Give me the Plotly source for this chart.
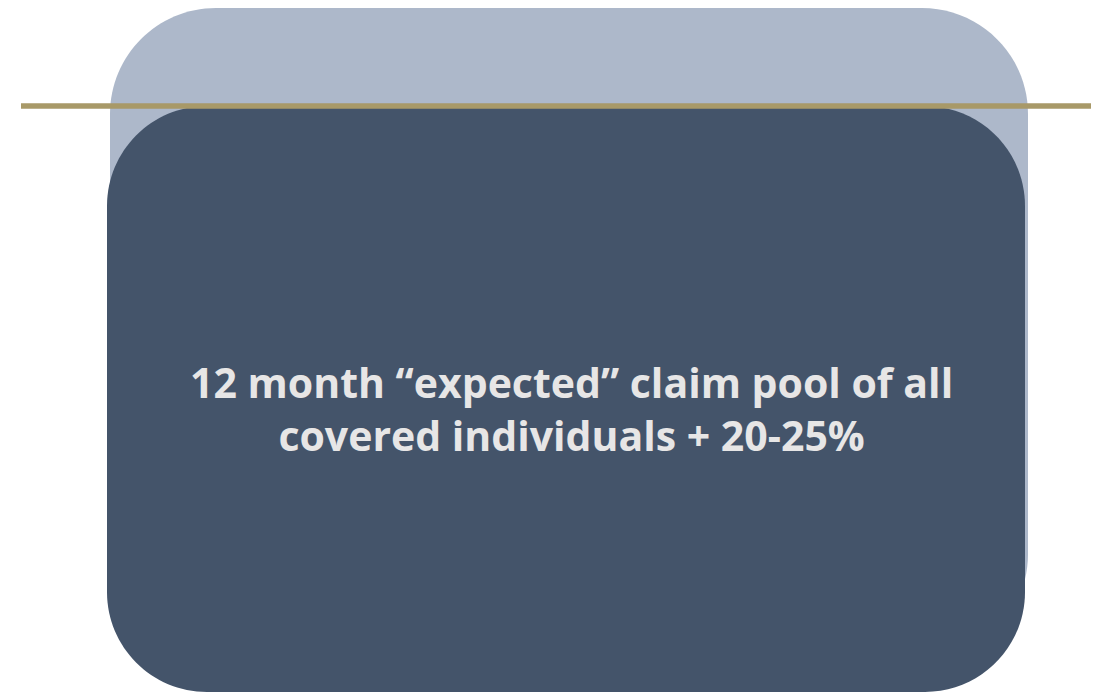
import plotly.graph_objects as go

W, H = 1099, 692
PAGE_OFFSET = 8  # default body margin of the html page

# Shape definitions (pixel space, y downward)
box_names = ["back", "front"]
box_x0 = [110, 107]
box_x1 = [1028, 1025]
box_y0 = [8, 106]
box_y1 = [660, 692]
box_radius = [106, 100]
box_colors = ["#ADB8CA", "#44546A"]

rule_x = [21, 1092]
rule_y = 106
rule_color = "#A89968"

label_lines = ["12 month \u201cexpected\u201d claim pool of all", "covered individuals + 20-25%"]
label_color = "#E7E6E6"


def rounded_rect(x0, y0, x1, y1, r):
    k = 0.5523 * r
    return (
        f"M{x0+r},{y0} L{x1-r},{y0} "
        f"C{x1-r+k},{y0} {x1},{y0+r-k} {x1},{y0+r} "
        f"L{x1},{y1-r} "
        f"C{x1},{y1-r+k} {x1-r+k},{y1} {x1-r},{y1} "
        f"L{x0+r},{y1} "
        f"C{x0+r-k},{y1} {x0},{y1-r+k} {x0},{y1-r} "
        f"L{x0},{y0+r} "
        f"C{x0},{y0+r-k} {x0+r-k},{y0} {x0+r},{y0} Z"
    )


fig = go.Figure()
fig.add_trace(go.Scatter(x=[0, W], y=[0, H], mode="markers",
                         marker=dict(opacity=0), hoverinfo="skip", showlegend=False))

shapes = []
for i in range(len(box_names)):
    shapes.append(dict(type="path",
                       path=rounded_rect(box_x0[i], box_y0[i], box_x1[i], box_y1[i], box_radius[i]),
                       fillcolor=box_colors[i], line=dict(width=0), layer="above"))
shapes.append(dict(type="line", x0=rule_x[0], x1=rule_x[1], y0=rule_y, y1=rule_y,
                   line=dict(color=rule_color, width=5.5), layer="above"))
fig.update_layout(shapes=shapes)

fig.add_annotation(x=571, y=408, xref="x", yref="y", showarrow=False,
                   text="<br>".join(label_lines), align="center",
                   font=dict(family="Open Sans", size=41, color=label_color, weight="bold"))

fig.update_layout(
    width=W, height=H, margin=dict(l=0, r=0, t=0, b=0),
    paper_bgcolor="white", plot_bgcolor="white",
    xaxis=dict(range=[PAGE_OFFSET, W + PAGE_OFFSET], visible=False, fixedrange=True),
    yaxis=dict(range=[H + PAGE_OFFSET, PAGE_OFFSET], visible=False, fixedrange=True),
    showlegend=False,
)

fig.write_html("out.html")
